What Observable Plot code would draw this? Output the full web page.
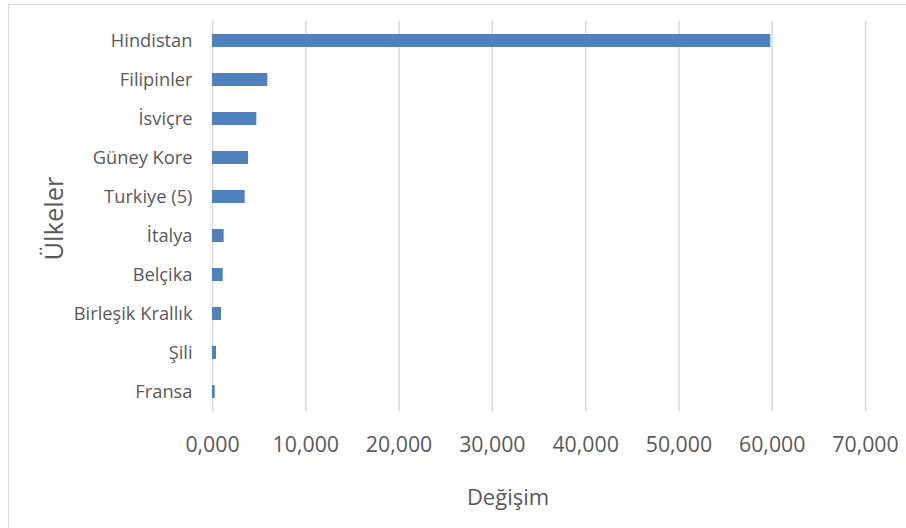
<!DOCTYPE html>
<html><head><meta charset="utf-8">
<script src="https://cdn.jsdelivr.net/npm/d3@7"></script>
<script src="https://cdn.jsdelivr.net/npm/@observablehq/plot@0.6"></script>
<style>
html,body{margin:0;padding:0;background:#fff;overflow:hidden}
#wrap{position:relative;width:906px;height:528px}
#border{position:absolute;left:8px;top:4px;width:920px;height:540px;border:1px solid #d9d9d9;box-sizing:border-box}
#chart{position:absolute;left:0;top:0}
</style></head><body>
<div id="wrap"><div id="border"></div><div id="chart"></div></div>
<script>
const countries = ["Hindistan","Filipinler","İsviçre","Güney Kore","Turkiye (5)","İtalya","Belçika","Birleşik Krallık","Şili","Fransa"];
const values = [59.85,5.93,4.75,3.86,3.50,1.25,1.15,0.965,0.43,0.29];
const xTicks = [0,10,20,30,40,50,60,70];
const xTitle = "Değişim";
const yTitle = "Ülkeler";
const data = countries.map((c,i)=>({country:c, value:values[i]}));
const fmt = d => d3.format(".3f")(d).replace(".", ",");
const plot = Plot.plot({
 width:906, height:528, marginLeft:212, marginRight:41, marginTop:20.5, marginBottom:116.5,
 style:{fontFamily:"'Open Sans', sans-serif", background:"transparent", color:"#595959", overflow:"visible"},
 x:{domain:[0,70], ticks: xTicks, tickFormat: fmt},
 y:{domain: countries, padding:0},
 marks:[
  Plot.ruleX(xTicks,{stroke:"#d9d9d9", strokeWidth:1.5}),
  Plot.barX(data,{y:"country", x:"value", fill:"#4f81bd", insetTop:13, insetBottom:13}),
  Plot.axisX(xTicks, {tickSize:0, tickPadding:25, fontSize:21.3, tickFormat: fmt, label:null}),
  Plot.axisY({tickSize:0, tickPadding:20, fontSize:18.3, label:null}),
  Plot.text([xTitle], {text:d=>d, frameAnchor:"bottom", dx:-31, dy:93, fontSize:22, fill:"#595959"}),
  Plot.text([yTitle], {text:d=>d, frameAnchor:"left", rotate:-90, dx:-158, dy:44, fontSize:25.5, fill:"#595959"})
 ]
});
document.getElementById("chart").appendChild(plot);
</script>
</body></html>
